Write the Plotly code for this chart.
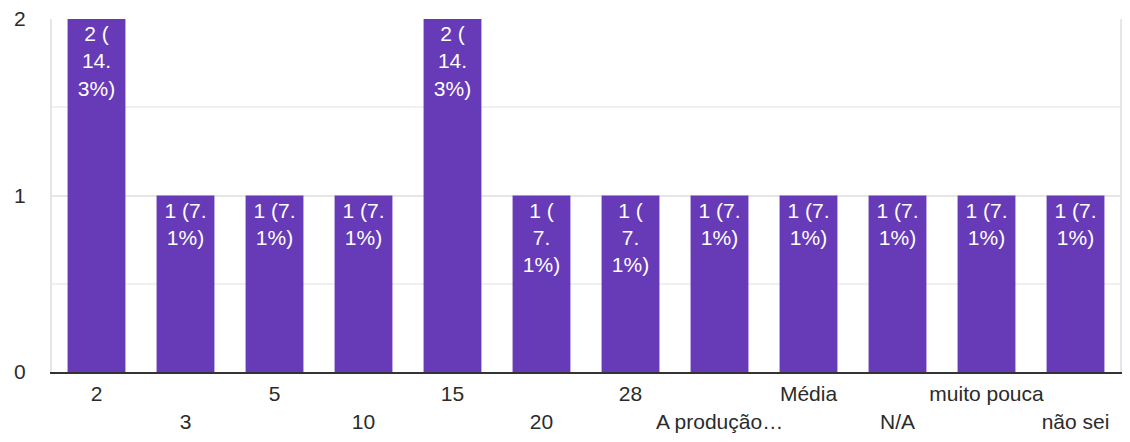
import plotly.graph_objects as go

categories = ["2", "3", "5", "10", "15", "20", "28", "A produção…", "Média", "N/A", "muito pouca", "não sei"]
counts = [2, 1, 1, 1, 2, 1, 1, 1, 1, 1, 1, 1]
bar_labels = [
    "2 (<br>14.<br>3%)", "1 (7.<br>1%)", "1 (7.<br>1%)", "1 (7.<br>1%)",
    "2 (<br>14.<br>3%)", "1 (<br>7.<br>1%)", "1 (<br>7.<br>1%)", "1 (7.<br>1%)",
    "1 (7.<br>1%)", "1 (7.<br>1%)", "1 (7.<br>1%)", "1 (7.<br>1%)",
]
y_ticks = [0, 1, 2]

tick_text = [("<br>" + c) if i % 2 else c for i, c in enumerate(categories)]

FONT = "Liberation Sans, Arial, sans-serif"

fig = go.Figure(
    go.Bar(
        x=categories,
        y=counts,
        text=bar_labels,
        textposition="inside",
        insidetextanchor="end",
        textangle=0,
        constraintext="none",
        textfont=dict(family=FONT, size=21, color="white"),
        marker=dict(color="#673AB7", line=dict(width=0)),
        hoverinfo="skip",
    )
)

fig.update_layout(
    width=1122,
    height=434,
    margin=dict(l=44, r=10, t=11, b=70, autoexpand=False),
    paper_bgcolor="white",
    plot_bgcolor="white",
    bargap=0.35,
    showlegend=False,
    font=dict(family=FONT, size=21, color="#333333"),
)

fig.update_xaxes(
    type="category",
    tickmode="array",
    tickvals=categories,
    ticktext=tick_text,
    tickangle=0,
    automargin=False,
    ticklabeloverflow="allow",
    tickfont=dict(family=FONT, size=21, color="#2b2b2b"),
    showgrid=False,
    showline=True,
    linecolor="#333333",
    linewidth=2,
    ticks="",
    ticklabelstandoff=2,
)

fig.update_yaxes(
    range=[0, 2],
    tickmode="array",
    tickvals=y_ticks,
    ticktext=[str(v) for v in y_ticks],
    tickfont=dict(family=FONT, size=21, color="#2b2b2b"),
    automargin=False,
    ticklabeloverflow="allow",
    showgrid=True,
    gridcolor="#e6e6e6",
    gridwidth=2,
    minor=dict(tickmode="array", tickvals=[0.5, 1.5], showgrid=True, gridcolor="#f0f0f0", gridwidth=2),
    zeroline=False,
    showline=True,
    mirror=True,
    linecolor="#e6e6e6",
    linewidth=2,
    ticks="",
    ticklabelstandoff=20,
)

fig.write_html("out.html")
